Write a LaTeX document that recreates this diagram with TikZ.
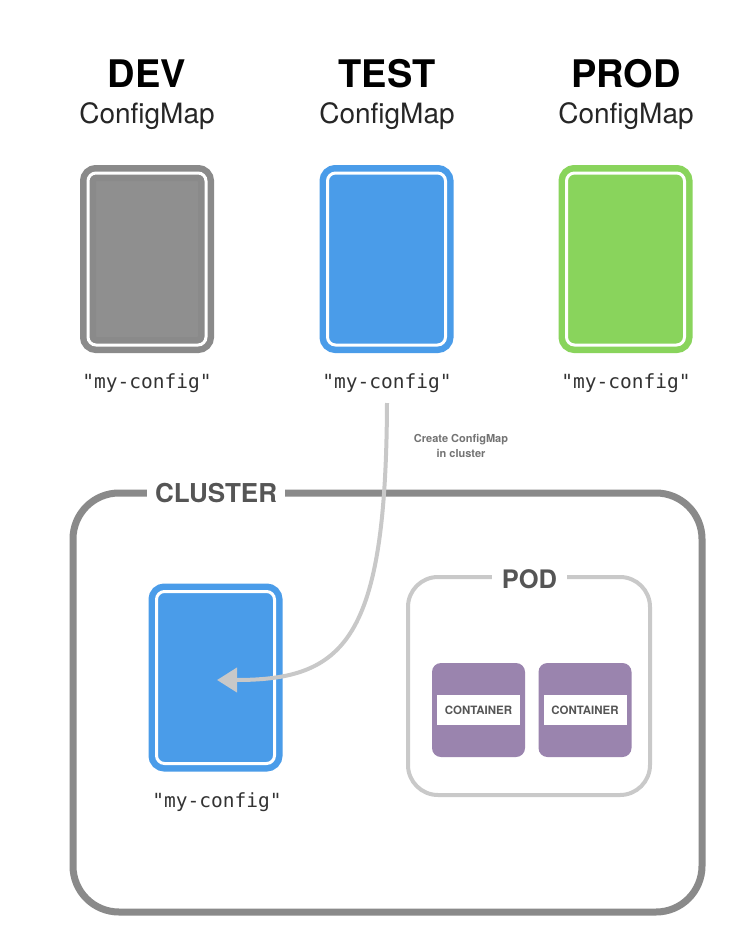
\documentclass[tikz,border=0pt]{standalone}
\usepackage{fontspec}
\setmainfont{TeX Gyre Heros}
\newfontfamily\cfgmono{DejaVu Sans Mono}
\usetikzlibrary{arrows.meta}
\definecolor{rimgray}{HTML}{8A8A8A}
\definecolor{fillgray}{HTML}{8F8F8F}
\definecolor{cfgblue}{HTML}{4A9CE9}
\definecolor{cfggreen}{HTML}{89D45C}
\definecolor{clgray}{HTML}{8A8A8A}
\definecolor{podgray}{HTML}{C9C9C9}
\definecolor{ctpurple}{HTML}{9A84AE}
\definecolor{arrgray}{HTML}{C8C8C8}
\definecolor{labgray}{HTML}{555555}
\tikzset{
  cfgcard/.style={draw=#1, fill=#1, line width=6.5pt, double=white, double distance=3pt,
    rounded corners=8pt, minimum width=118pt, minimum height=172pt, inner sep=0pt},
  envtitle/.style={font=\fontsize{38}{40}\selectfont\bfseries, anchor=base},
  envsub/.style={font=\fontsize{28}{30}\selectfont, text=black!85, anchor=base},
  cfgname/.style={font=\cfgmono\fontsize{19.5}{20}\selectfont, text=black!80, anchor=base},
  boxlabel/.style={fill=white, text=labgray, anchor=base, inner xsep=8pt, inner ysep=2pt},
  ctbox/.style={fill=ctpurple, rounded corners=9pt, minimum width=93pt, minimum height=94pt, inner sep=0pt},
  ctband/.style={fill=white, minimum width=83pt, minimum height=30pt, inner sep=0pt,
    font=\fontsize{11.5}{12}\selectfont\bfseries, text=labgray},
  flowarrow/.style={draw=arrgray, line width=4pt, -{Triangle[length=20pt,width=24pt]}},
}
\begin{document}
\begin{tikzpicture}[x=1pt,y=-1pt]
\useasboundingbox (0,0) rectangle (750,950);
\fill[white] (0,0) rectangle (750,950);

% titles
\node[envtitle] (devt) at (147,88) {DEV};
\node[envsub] (devs) at (147,123) {ConfigMap};
\node[envtitle] (testt) at (387,88) {TEST};
\node[envsub] (tests) at (387,123) {ConfigMap};
\node[envtitle] (prodt) at (626,88) {PROD};
\node[envsub] (prods) at (626,123) {ConfigMap};

% cards
\node[cfgcard=rimgray, fill=fillgray] (dev) at (147,259) {};
\node[cfgcard=cfgblue] (test) at (386.5,259) {};
\node[cfgcard=cfggreen] (prod) at (625.5,259) {};

\node[cfgname] (devn) at (147,388) {"my-config"};
\node[cfgname] (testn) at (387,388) {"my-config"};
\node[cfgname] (prodn) at (626,388) {"my-config"};

% note
\node[font=\fontsize{11}{15}\selectfont\bfseries, text=black!55, align=center] (note) at (461,445.5)
  {Create ConfigMap\\in cluster};

% cluster
\draw[line width=7pt, clgray, rounded corners=46pt] (73,493) rectangle (702,912);
\node[boxlabel, font=\fontsize{26}{28}\selectfont\bfseries] (cluster) at (216,502) {CLUSTER};

% cluster card
\node[cfgcard=cfgblue] (ccard) at (215.5,677.5) {};
\node[cfgname] (ccardn) at (217,807) {"my-config"};

% pod
\draw[line width=4pt, podgray, rounded corners=30pt] (408,577) rectangle (650,795);
\node[boxlabel, font=\fontsize{25.5}{27}\selectfont\bfseries, inner xsep=10pt] (pod) at (529.5,588) {POD};

% containers
\node[ctbox] (c1) at (478.5,710) {};
\node[ctband] (c1l) at (c1.center) {CONTAINER};
\node[ctbox] (c2) at (585,710) {};
\node[ctband] (c2l) at (c2.center) {CONTAINER};

% arrow
\coordinate (tip) at (217,680);
\coordinate (start) at (387,403);
\draw[flowarrow] (start) .. controls (386,640) and (345,680) .. (tip);
\end{tikzpicture}
\end{document}
